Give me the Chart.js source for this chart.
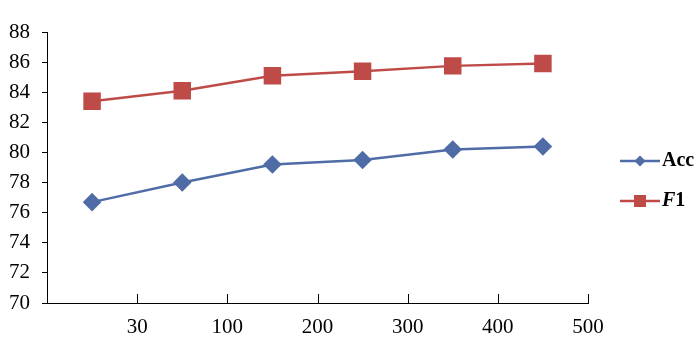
<!DOCTYPE html>
<html lang="en">
<head>
<meta charset="UTF-8">
<title>Acc / F1</title>
<script src="https://cdn.jsdelivr.net/npm/chart.js"></script>
<style>
  html, body { margin: 0; padding: 0; background: #fff; }
  #wrap { width: 700px; height: 354px; position: relative; }
</style>
</head>
<body>
<div id="wrap"><canvas id="chart"></canvas></div>
<script>
// values
const xLabels = ['30', '100', '200', '300', '400', '500'];
const accValues = [76.7, 78.0, 79.2, 79.5, 80.2, 80.4];
const f1Values = [83.4, 84.1, 85.1, 85.4, 85.75, 85.9];
const yMin = 70, yMax = 88, yStep = 2;

const blue = '#4F6CA6';
const red = '#BE4B48';

Chart.defaults.font.family = '"Liberation Serif", serif';
Chart.defaults.font.size = 21;
Chart.defaults.color = '#000';

// points sit in the middle of each category band, labels on the band edges
const toPoints = vals => vals.map((v, i) => ({ x: i + 0.5, y: v }));

// inward tick marks on the x axis + right hand legend
const extras = {
    id: 'extras',
    afterDraw(chart) {
        const ctx = chart.ctx;
        const xs = chart.scales.x;
        const bottom = chart.chartArea.bottom;
        ctx.save();
        ctx.strokeStyle = '#000';
        ctx.lineWidth = 1;
        for (let i = 1; i <= xLabels.length; i++) {
            const px = Math.round(xs.getPixelForValue(i)) + 0.5;
            ctx.beginPath();
            ctx.moveTo(px, bottom);
            ctx.lineTo(px, bottom - 9);
            ctx.stroke();
        }

        // legend
        const lx = 620, lw = 40;
        const items = [
            { y: 161, color: blue, shape: 'diamond', text: [['Acc', 'bold']] },
            { y: 201, color: red, shape: 'square', text: [['F', 'italic bold'], ['1', 'bold']] }
        ];
        items.forEach(it => {
            ctx.strokeStyle = it.color;
            ctx.fillStyle = it.color;
            ctx.lineWidth = 2.5;
            ctx.beginPath();
            ctx.moveTo(lx, it.y);
            ctx.lineTo(lx + lw, it.y);
            ctx.stroke();
            const cx = lx + lw / 2;
            ctx.beginPath();
            if (it.shape === 'diamond') {
                ctx.moveTo(cx, it.y - 5.5);
                ctx.lineTo(cx + 5.5, it.y);
                ctx.lineTo(cx, it.y + 5.5);
                ctx.lineTo(cx - 5.5, it.y);
                ctx.closePath();
            } else {
                ctx.rect(cx - 6, it.y - 6, 12, 12);
            }
            ctx.fill();
            let tx = lx + lw + 2;
            ctx.fillStyle = '#000';
            ctx.textBaseline = 'middle';
            ctx.textAlign = 'left';
            it.text.forEach(([s, style]) => {
                ctx.font = style + ' 20px "Liberation Serif", serif';
                ctx.fillText(s, tx, it.y);
                tx += ctx.measureText(s).width;
            });
        });
        ctx.restore();
    }
};

new Chart(document.getElementById('chart'), {
    type: 'line',
    data: {
        datasets: [{
            label: 'Acc',
            data: toPoints(accValues),
            borderColor: blue,
            backgroundColor: blue,
            borderWidth: 2.5,
            pointStyle: 'rectRot',
            pointRadius: 7.5,
            pointHoverRadius: 7.5,
            tension: 0
        }, {
            label: 'F1',
            data: toPoints(f1Values),
            borderColor: red,
            backgroundColor: red,
            borderWidth: 2.5,
            pointStyle: 'rect',
            pointRadius: 10.6,
            pointHoverRadius: 10.6,
            tension: 0
        }]
    },
    options: {
        responsive: true,
        maintainAspectRatio: false,
        animation: false,
        layout: { padding: { top: 32, right: 112, left: 0, bottom: 0 } },
        plugins: {
            legend: { display: false },
            tooltip: { enabled: false }
        },
        scales: {
            x: {
                type: 'linear',
                min: 0,
                max: xLabels.length,
                afterFit: s => { s.height = 51; },
                grid: { drawOnChartArea: false, drawTicks: false },
                border: { color: '#000', width: 1 },
                ticks: {
                    stepSize: 1,
                    padding: 12,
                    maxRotation: 0,
                    callback: v => (v >= 1 ? xLabels[v - 1] : '')
                }
            },
            y: {
                min: yMin,
                max: yMax,
                afterFit: s => { s.width = 47; },
                grid: { drawOnChartArea: false, drawTicks: true, tickLength: 5, color: '#000' },
                border: { color: '#000', width: 1 },
                ticks: { stepSize: yStep, padding: 12 }
            }
        }
    },
    plugins: [extras]
});
</script>
</body>
</html>
